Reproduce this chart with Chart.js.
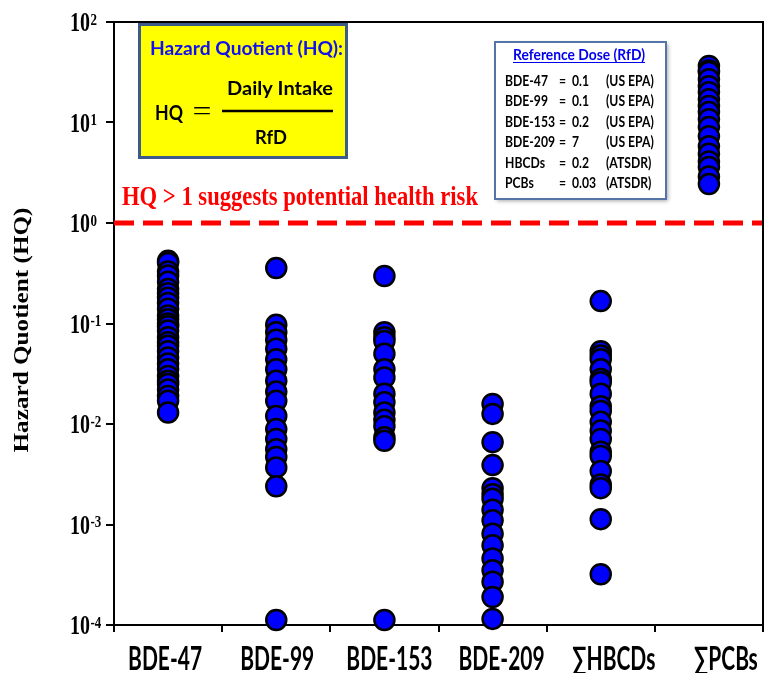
<!DOCTYPE html>
<html>
<head>
<meta charset="utf-8">
<script src="https://cdn.jsdelivr.net/npm/chart.js@4.4.0/dist/chart.umd.min.js"></script>
<style>
  html, body { margin: 0; padding: 0; background: #ffffff; }
  #wrap { width: 765px; height: 673px; }
</style>
</head>
<body>
<div id="wrap"><canvas id="hqChart" width="765" height="673"></canvas></div>
<script>
// Catégories de l'axe x
const categories = ['BDE-47', 'BDE-99', 'BDE-153', 'BDE-209', '∑HBCDs', '∑PCBs'];

// Valeurs HQ (échelle log)
const hqBDE47 = [0.42, 0.40, 0.33, 0.30, 0.26, 0.22, 0.20, 0.18, 0.16, 0.14, 0.12, 0.11, 0.10, 0.094, 0.085,
                 0.073, 0.065, 0.060, 0.053, 0.046, 0.040, 0.035, 0.030, 0.027, 0.025, 0.022, 0.019, 0.017, 0.013];
const hqBDE99 = [0.356, 0.097, 0.082, 0.069, 0.056, 0.044, 0.035, 0.027, 0.021, 0.017, 0.012, 0.0089,
                 0.0071, 0.0056, 0.0047, 0.0037, 0.0024, 0.000112];
const hqBDE153 = [0.297, 0.082, 0.073, 0.067, 0.050, 0.035, 0.029, 0.020, 0.0165, 0.013, 0.011, 0.0095,
                  0.0074, 0.0068, 0.000112];
const hqBDE209 = [0.0158, 0.0126, 0.0066, 0.0039, 0.0023, 0.0020, 0.0018, 0.0014, 0.0011, 0.00081,
                  0.00062, 0.00046, 0.00035, 0.00027, 0.00019, 0.000115];
const hqHBCDs = [0.167, 0.053, 0.048, 0.044, 0.035, 0.028, 0.026, 0.020, 0.015, 0.0135, 0.0105, 0.0086,
                 0.0071, 0.0053, 0.0048, 0.0034, 0.0025, 0.0023, 0.00113, 0.00032];
const hqPCBs = [36.5, 33, 31.8, 27, 23, 20, 17, 14.6, 12.7, 10.8, 9.0, 7.3, 5.8, 4.9, 4.1, 3.6, 2.9, 2.44];

// Graduations de l'axe y (puissances de 10)
const yTickValues = [1e-4, 1e-3, 1e-2, 1e-1, 1, 10, 100];
const yTickBase = '10';
const yTickExponents = ['-4', '-3', '-2', '-1', '0', '1', '2'];

// Seuil de risque
const riskThreshold = 1;

// Tableau des doses de référence
const rfdNames = ['BDE-47', 'BDE-99', 'BDE-153', 'BDE-209', 'HBCDs', 'PCBs'];
const rfdValues = ['0.1', '0.1', '0.2', '7', '0.2', '0.03'];
const rfdSources = ['(US EPA)', '(US EPA)', '(US EPA)', '(US EPA)', '(ATSDR)', '(ATSDR)'];

const hqSeries = [hqBDE47, hqBDE99, hqBDE153, hqBDE209, hqHBCDs, hqPCBs];

const SERIF = '"Liberation Serif", "Times New Roman", serif';
const SANS = 'Lato, "Open Sans", sans-serif';

// Texte étiré (la figure d'origine a un texte haut et étroit)
function drawText(ctx, text, x, y, o) {
    ctx.save();
    ctx.font = o.font;
    ctx.fillStyle = o.color || '#000000';
    ctx.textAlign = o.align || 'left';
    ctx.textBaseline = o.baseline || 'alphabetic';
    const natural = ctx.measureText(text).width;
    const sx = o.width ? o.width / natural : (o.sx || 1);
    ctx.translate(x, y);
    if (o.rotate) ctx.rotate(o.rotate);
    ctx.scale(sx, o.sy || 1);
    ctx.fillText(text, 0, 0);
    ctx.restore();
    return natural * sx;
}

function measure(ctx, text, font) {
    ctx.save();
    ctx.font = font;
    const w = ctx.measureText(text).width;
    ctx.restore();
    return w;
}

const overlayPlugin = {
    id: 'overlay',
    beforeDatasetsDraw(chart) {
        const { ctx, chartArea: a, scales: { y } } = chart;
        const yy = y.getPixelForValue(riskThreshold);
        ctx.save();
        ctx.strokeStyle = '#ff0000';
        ctx.lineWidth = 5;
        ctx.setLineDash([20, 9]);
        ctx.beginPath();
        ctx.moveTo(a.left, yy);
        ctx.lineTo(a.right, yy);
        ctx.stroke();
        ctx.restore();
    },
    afterDraw(chart) {
        const { ctx, chartArea: a, scales: { x, y } } = chart;

        // Cadre haut et droit
        ctx.save();
        ctx.strokeStyle = '#000000';
        ctx.lineWidth = 2;
        ctx.beginPath();
        ctx.moveTo(a.left, a.top);
        ctx.lineTo(a.right, a.top);
        ctx.lineTo(a.right, a.bottom);
        ctx.stroke();
        ctx.restore();

        // Étiquettes de l'axe y : 10 + exposant
        yTickValues.forEach((v, i) => {
            const py = y.getPixelForValue(v);
            const w = drawText(ctx, yTickBase, 70, py + 9, { font: 'bold 20px ' + SERIF, sy: 1.33 });
            drawText(ctx, yTickExponents[i], 70 + w + 0.5, py + 2.5, { font: 'bold 13px ' + SERIF, sy: 1.33 });
        });

        // Titre de l'axe y
        drawText(ctx, 'Hazard Quotient (HQ)', 23, 330, {
            font: 'bold 20px ' + SERIF, width: 245, sy: 1.05,
            align: 'center', baseline: 'middle', rotate: -Math.PI / 2
        });

        // Étiquettes de l'axe x (légère dérive vers la droite comme dans l'original)
        const xFont = 'bold 20px ' + SANS;
        const xsx = 74 / measure(ctx, categories[0], xFont);
        categories.forEach((c, i) => {
            drawText(ctx, c, x.getPixelForValue(i) - 3 + 4 * i, 670, {
                font: xFont, sx: xsx, sy: 23 / (0.7165 * 20), align: 'center'
            });
        });

        // Texte rouge du seuil
        drawText(ctx, 'HQ > 1 suggests potential health risk', 122, 205, {
            font: 'bold 22px ' + SERIF, width: 356, sy: 1.24, color: '#ff0000'
        });

        // Encadré jaune : formule HQ
        ctx.save();
        ctx.fillStyle = '#ffff00';
        ctx.strokeStyle = '#3c5a8a';
        ctx.lineWidth = 3;
        ctx.fillRect(139.5, 24.5, 207, 133);
        ctx.strokeRect(139.5, 24.5, 207, 133);
        ctx.restore();
        drawText(ctx, 'Hazard Quotient (HQ):', 150, 55, {
            font: 'bold 18px ' + SANS, width: 193, sy: 1.09, color: '#1010f0'
        });
        drawText(ctx, 'HQ', 155, 120, { font: 'bold 19px ' + SANS, width: 28, sy: 1.1 });
        drawText(ctx, '=', 202, 120, { font: '28px ' + SERIF, width: 19, align: 'center' });
        ctx.save();
        ctx.strokeStyle = '#000000';
        ctx.lineWidth = 2.5;
        ctx.beginPath();
        ctx.moveTo(222, 111);
        ctx.lineTo(333, 111);
        ctx.stroke();
        ctx.restore();
        drawText(ctx, 'Daily Intake', 227, 95, { font: 'bold 17px ' + SANS, width: 106, sy: 1.08 });
        drawText(ctx, 'RfD', 255, 144, { font: 'bold 18px ' + SANS, width: 32, sy: 1.08 });

        // Encadré des doses de référence
        ctx.save();
        ctx.fillStyle = '#ffffff';
        ctx.shadowColor = 'rgba(0, 0, 0, 0.35)';
        ctx.shadowBlur = 4;
        ctx.shadowOffsetX = 2;
        ctx.shadowOffsetY = 2;
        ctx.fillRect(495, 42, 171, 157);
        ctx.shadowColor = 'transparent';
        ctx.strokeStyle = '#5574a8';
        ctx.lineWidth = 2;
        ctx.strokeRect(495, 42, 171, 157);
        ctx.restore();
        const tw = drawText(ctx, 'Reference Dose (RfD)', 513, 60, {
            font: 'bold 13px ' + SANS, width: 132, sy: 1.18, color: '#0000ee'
        });
        ctx.save();
        ctx.strokeStyle = '#0000ee';
        ctx.lineWidth = 1;
        ctx.beginPath();
        ctx.moveTo(513, 62.5);
        ctx.lineTo(513 + tw, 62.5);
        ctx.stroke();
        ctx.restore();
        const tFont = 'bold 13px ' + SANS;
        const tsx = 43 / measure(ctx, rfdNames[0], tFont);
        rfdNames.forEach((n, i) => {
            const by = 86 + 20.4 * i;
            drawText(ctx, n, 505, by, { font: tFont, sx: tsx, sy: 1.12 });
            drawText(ctx, '=', 559, by, { font: tFont, sx: tsx, sy: 1.12 });
            drawText(ctx, rfdValues[i], 572, by, { font: tFont, sx: tsx, sy: 1.12 });
            drawText(ctx, rfdSources[i], 606, by, { font: tFont, sx: tsx, sy: 1.12 });
        });
    }
};

const datasets = categories.map((cat, i) => ({
    label: cat,
    data: hqSeries[i].map(v => ({ x: cat, y: v })),
    showLine: false,
    pointRadius: 10,
    pointHoverRadius: 10,
    pointBackgroundColor: '#0000ff',
    pointBorderColor: '#000000',
    pointBorderWidth: 2.5,
    clip: false
}));

const hqChart = new Chart(document.getElementById('hqChart'), {
    type: 'line',
    data: { labels: categories, datasets: datasets },
    options: {
        responsive: false,
        animation: false,
        layout: { autoPadding: false, padding: { top: 22, right: 2, left: 0, bottom: 0 } },
        plugins: {
            legend: { display: false },
            tooltip: { enabled: false }
        },
        scales: {
            x: {
                type: 'category',
                offset: true,
                grid: { offset: true, drawOnChartArea: false, drawTicks: true, tickLength: 7, color: '#000000', lineWidth: 2 },
                border: { display: true, color: '#000000', width: 2 },
                ticks: { display: false },
                afterFit(scale) { scale.height = 48; }
            },
            y: {
                type: 'logarithmic',
                min: 1e-4,
                max: 100,
                afterBuildTicks(scale) {
                    scale.ticks = yTickValues.map(v => ({ value: v, major: true }));
                },
                grid: { drawOnChartArea: false, drawTicks: true, tickLength: 8, color: '#000000', lineWidth: 2 },
                border: { display: true, color: '#000000', width: 2 },
                ticks: { display: false },
                afterFit(scale) { scale.width = 114; }
            }
        }
    },
    plugins: [overlayPlugin]
});
</script>
</body>
</html>
